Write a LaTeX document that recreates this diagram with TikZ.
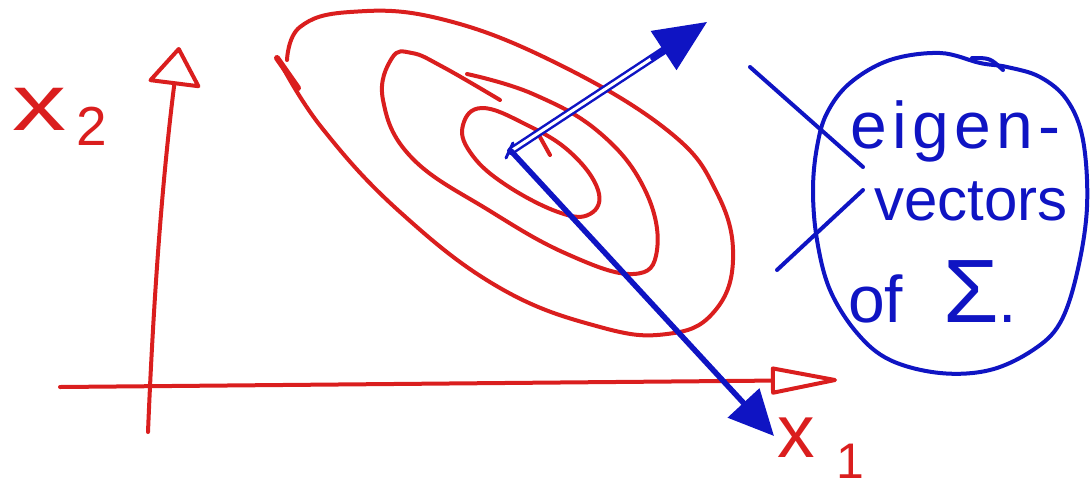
\documentclass[tikz,border=0pt]{standalone}
\usepackage{fontspec}
\setmainfont{Liberation Sans}
\usetikzlibrary{arrows.meta,calc}
\definecolor{penred}{RGB}{218,30,30}
\definecolor{penblue}{RGB}{15,20,195}
\begin{document}
\begin{tikzpicture}[x=1pt,y=-1pt,
  redpen/.style={draw=penred,line width=4pt,line cap=round,line join=round},
  bluepen/.style={draw=penblue,line width=4pt,line cap=round,line join=round},
  redtext/.style={text=penred,inner sep=0pt,anchor=base west},
  bluetext/.style={text=penblue,inner sep=0pt,anchor=base west,font=\fontsize{60}{60}\selectfont}]
\useasboundingbox (0,0) rectangle (1092,488);
% axes
\coordinate (x1s) at (60,387);
\coordinate (x1e) at (837,380);
\coordinate (x2s) at (148,432);
\coordinate (x2e) at (179,47);
\draw[redpen,-{Triangle[open,length=75pt,width=28pt,line join=round]}] (x1s) -- (x1e);
\draw[redpen,-{Triangle[open,length=40pt,width=55pt,line join=round]}] (x2s) .. controls (155,260) and (166,150) .. (x2e);
\node[redtext,font=\fontsize{80}{80}\selectfont] (lx2) at (12,130) {\scalebox{1.35}[1]{x}\hspace{10pt}\raisebox{-15pt}{\fontsize{55}{55}\selectfont 2}};
\node[redtext,font=\fontsize{75}{75}\selectfont] (lx1) at (777,457) {x\hspace{22pt}\raisebox{-21pt}{\fontsize{50}{50}\selectfont 1}};
% contours
\draw[redpen] plot[smooth,tension=0.7] coordinates {(287,60) (300,27) (350,12) (437,18) (550,60) (667,130) (717,193) (733,260) (713,313) (667,334) (600,327) (500,288) (400,212) (322,128) (280,62)};
\draw[redpen,line width=6pt] (277,58) -- (298,88);
\draw[redpen] plot[smooth,tension=0.7] coordinates {(467,74) (533,94) (600,133) (645,190) (657,250) (633,274) (567,254) (490,211) (412,158) (383,100) (392,58) (412,53) (443,67) (500,100)};
\draw[redpen] plot[smooth cycle,tension=0.7] coordinates {(463,125) (482,108) (525,124) (570,152) (598,190) (590,214) (558,212) (503,183) (470,152)};
\draw[redpen] (540,137) -- (550,155);
% eigenvectors
\coordinate (O) at (511,151);
\coordinate (E1) at (707,22);
\coordinate (E2) at (774,436);
\draw[bluepen,line width=2.5pt,double=white,double distance=3pt] (O) -- ($(O)!0.8!(E1)$);
\draw[bluepen,-{Triangle[length=52pt,width=46pt]}] ($(O)!0.72!(E1)$) -- (E1);
\draw[bluepen,line width=3pt] (506,158) -- (513,143);
\draw[bluepen,line width=5.5pt,-{Triangle[length=45pt,width=42pt]}] (O) -- (E2);
% note
\draw[bluepen] plot[smooth cycle,tension=0.6] coordinates {(980,63) (940,53) (890,60) (850,83) (827,113) (817,147) (813,190) (817,240) (830,290) (857,333) (890,360) (940,373) (990,370) (1033,350) (1060,323) (1077,273) (1087,207) (1083,140) (1067,100) (1040,77) (1007,67)};
\draw[bluepen] (972,58) .. controls (990,58) .. (1003,70);
\coordinate (p1) at (750,67);
\coordinate (p2) at (777,270);
\coordinate (q1) at (863,167);
\coordinate (q2) at (863,190);
\draw[bluepen] (p1) -- (q1);
\draw[bluepen] (p2) -- (q2);
\node[bluetext,font=\fontsize{66}{66}\selectfont\addfontfeatures{LetterSpace=8}] (t1) at (850,148) {eigen-};
\node[bluetext] (t2) at (874,220) {vectors};
\node[bluetext,font=\fontsize{66}{66}\selectfont] (t3) at (848,322) {of\hspace{40pt}{\fontsize{90}{90}\selectfont Σ}.};
\end{tikzpicture}
\end{document}
